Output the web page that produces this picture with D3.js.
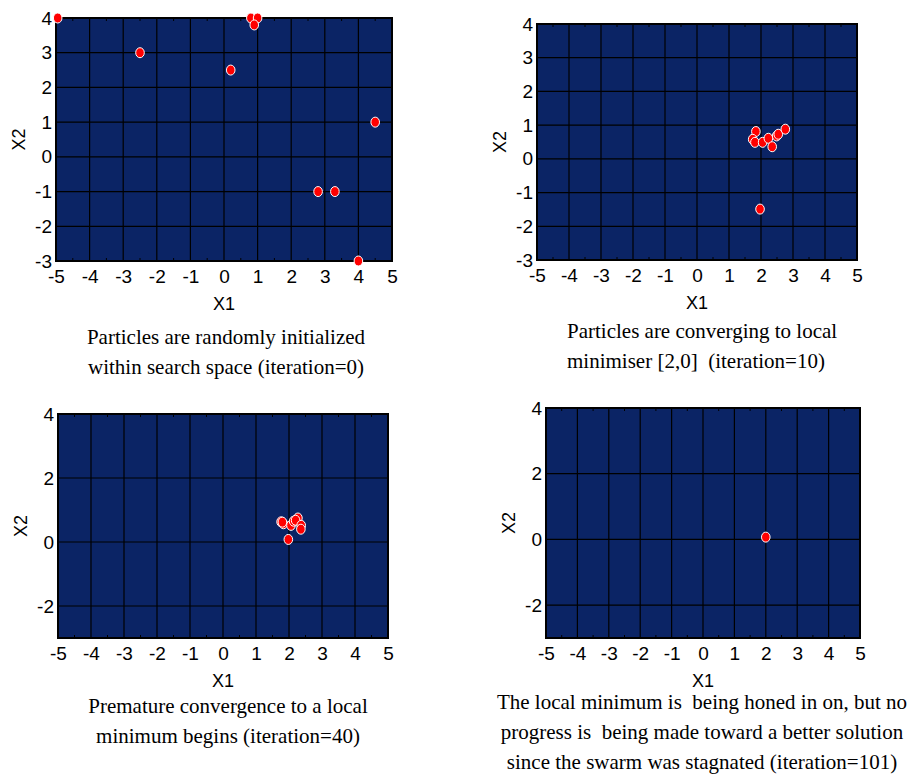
<!DOCTYPE html>
<html>
<head>
<meta charset="utf-8">
<script src="https://cdn.jsdelivr.net/npm/d3@7"></script>
<style>
  body { margin: 0; background: #fff; }
  svg { display: block; }
</style>
</head>
<body>
<svg width="909" height="775"></svg>
<script>
// tick values
const xTicks = [-5, -4, -3, -2, -1, 0, 1, 2, 3, 4, 5];
const yTicksAll = [-3, -2, -1, 0, 1, 2, 3, 4];
const yTicksEven = [-2, 0, 2, 4];

// particle positions per iteration
const iter0X = [-4.95, -2.5, 0.2, 0.8, 1.0, 0.9, 4.5, 2.8, 3.3, 4.0];
const iter0Y = [4, 3, 2.5, 4, 4, 3.8, 1, -1, -1, -3];
const iter10X = [1.84, 1.74, 1.81, 2.05, 2.23, 2.35, 2.49, 2.54, 2.76, 1.97];
const iter10Y = [0.81, 0.58, 0.49, 0.49, 0.61, 0.36, 0.68, 0.73, 0.88, -1.49];
const iter40X = [1.76, 1.83, 2.06, 2.14, 2.27, 2.2, 2.37, 2.36, 1.98, 1.8];
const iter40Y = [0.63, 0.57, 0.52, 0.65, 0.75, 0.68, 0.52, 0.40, 0.08, 0.62];
const iter101X = [2.0];
const iter101Y = [0.07];

// captions
const caption0 = ["Particles are randomly initialized", "within search space (iteration=0)"];
const caption10 = ["Particles are converging to local", "minimiser [2,0]  (iteration=10)"];
const caption40 = ["Premature convergence to a local", "minimum begins (iteration=40)"];
const caption101 = ["The local minimum is  being honed in on, but no",
                    "progress is  being made toward a better solution",
                    "since the swarm was stagnated (iteration=101)"];

const panels = [
  { xs: iter0X, ys: iter0Y, caption: caption0, yTicks: yTicksAll,
    left: 56, right: 392, top: 18, bottom: 261, capX: 226, anchor: "middle", capY: 344 },
  { xs: iter10X, ys: iter10Y, caption: caption10, yTicks: yTicksAll,
    left: 537, right: 857, top: 24, bottom: 260, capX: 567, anchor: "start", capY: 338 },
  { xs: iter40X, ys: iter40Y, caption: caption40, yTicks: yTicksEven,
    left: 58, right: 388, top: 414, bottom: 638, capX: 228, anchor: "middle", capY: 713 },
  { xs: iter101X, ys: iter101Y, caption: caption101, yTicks: yTicksEven,
    left: 546, right: 860, top: 408, bottom: 638, capX: 702, anchor: "middle", capY: 709 }
];

const svg = d3.select("svg");
const sansFont = "'Liberation Sans', Arial, sans-serif";
const serifFont = "'Liberation Serif', 'Times New Roman', serif";

panels.forEach(p => {
  const x = d3.scaleLinear().domain([-5, 5]).range([p.left, p.right]);
  const y = d3.scaleLinear().domain([-3, 4]).range([p.bottom, p.top]);
  const g = svg.append("g");

  // background
  g.append("rect")
    .attr("x", p.left).attr("y", p.top)
    .attr("width", p.right - p.left).attr("height", p.bottom - p.top)
    .attr("fill", "#0b2465");

  // grid
  g.selectAll(".vgrid").data(xTicks).enter().append("line")
    .attr("x1", d => x(d)).attr("x2", d => x(d))
    .attr("y1", p.top).attr("y2", p.bottom)
    .attr("stroke", "#000").attr("stroke-width", 1.2);
  g.selectAll(".hgrid").data(p.yTicks).enter().append("line")
    .attr("y1", d => y(d)).attr("y2", d => y(d))
    .attr("x1", p.left).attr("x2", p.right)
    .attr("stroke", "#000").attr("stroke-width", 1.2);

  // minor ticks on top and bottom
  const minor = xTicks.slice(0, -1).map(d => d + 0.5);
  g.selectAll(".mtop").data(minor).enter().append("line")
    .attr("x1", d => x(d)).attr("x2", d => x(d))
    .attr("y1", p.top).attr("y2", p.top + 3)
    .attr("stroke", "#000").attr("stroke-width", 1);
  g.selectAll(".mbot").data(minor).enter().append("line")
    .attr("x1", d => x(d)).attr("x2", d => x(d))
    .attr("y1", p.bottom).attr("y2", p.bottom - 3)
    .attr("stroke", "#000").attr("stroke-width", 1);

  // frame
  g.append("rect")
    .attr("x", p.left).attr("y", p.top)
    .attr("width", p.right - p.left).attr("height", p.bottom - p.top)
    .attr("fill", "none").attr("stroke", "#000").attr("stroke-width", 2);

  // axes (labels only), plain hyphen for negatives
  const fmt = d => String(d);
  const xAxis = g.append("g")
    .attr("transform", `translate(0,${p.bottom})`)
    .call(d3.axisBottom(x).tickValues(xTicks).tickFormat(fmt).tickSize(0).tickPadding(9));
  const yAxis = g.append("g")
    .attr("transform", `translate(${p.left},0)`)
    .call(d3.axisLeft(y).tickValues(p.yTicks).tickFormat(fmt).tickSize(0).tickPadding(4));
  [xAxis, yAxis].forEach(a => {
    a.select(".domain").remove();
    a.selectAll("text")
      .style("font-family", sansFont)
      .style("font-size", "19px")
      .attr("fill", "#000");
  });

  // axis titles
  g.append("text")
    .attr("x", (p.left + p.right) / 2).attr("y", p.bottom + 49)
    .attr("text-anchor", "middle")
    .style("font-family", sansFont).style("font-size", "18px")
    .text("X1");
  g.append("text")
    .attr("transform", `translate(${p.left - 37},${(p.top + p.bottom) / 2}) rotate(-90)`)
    .attr("text-anchor", "middle")
    .attr("dominant-baseline", "central")
    .style("font-family", sansFont).style("font-size", "18px")
    .text("X2");

  // particles
  g.selectAll(".pt").data(p.xs.map((v, i) => [v, p.ys[i]])).enter().append("ellipse")
    .attr("cx", d => x(d[0])).attr("cy", d => y(d[1]))
    .attr("rx", 4.3).attr("ry", 5)
    .attr("fill", "#ff0000")
    .attr("stroke", "#fff").attr("stroke-width", 1);

  // caption
  g.selectAll(".cap").data(p.caption).enter().append("text")
    .attr("x", p.capX)
    .attr("y", (d, i) => p.capY + i * 30)
    .attr("text-anchor", p.anchor)
    .style("white-space", "pre")
    .style("font-family", serifFont).style("font-size", "21px")
    .text(d => d);
});
</script>
</body>
</html>
